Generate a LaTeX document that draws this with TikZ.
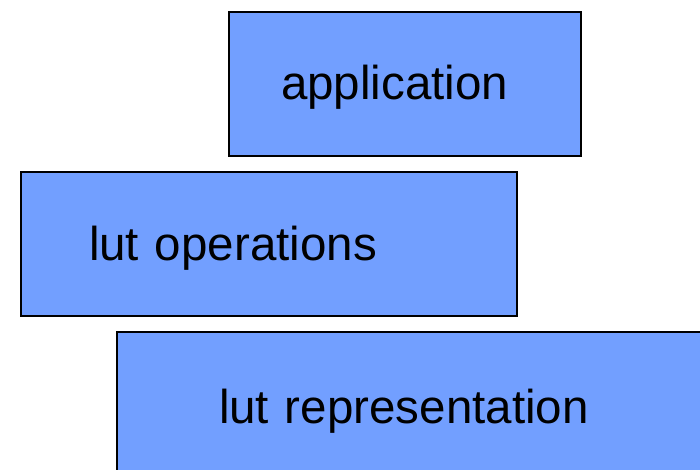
\documentclass[tikz,border=0pt]{standalone}
\usepackage{fontspec}
\setmainfont{Liberation Sans}
\usepackage{tikz}
\usetikzlibrary{positioning}
\definecolor{layerblue}{RGB}{114,159,255}
\tikzset{
  layer/.style={draw=black,line width=2pt,fill=layerblue,
    anchor=north west,align=left,inner ysep=0pt,
    text height=42pt,text depth=10pt,
    font=\fontsize{47.5}{57}\selectfont}
}

\begin{document}
\begin{tikzpicture}[x=1pt,y=-1pt]
  \useasboundingbox (0,0) rectangle (700,470);
  \clip (0,0) rectangle (700,470);
  \node[layer,minimum height=144pt,inner xsep=52pt,text width=248pt]
    (app) at (228,11) {application};
  \node[layer,minimum height=144pt,inner xsep=68.5pt,text width=359.5pt]
    (ops) at (19.5,171) {lut operations};
  \node[layer,minimum height=150pt,inner xsep=102pt,text width=400pt]
    (rep) at (116,331) {lut representation};
\end{tikzpicture}
\end{document}
